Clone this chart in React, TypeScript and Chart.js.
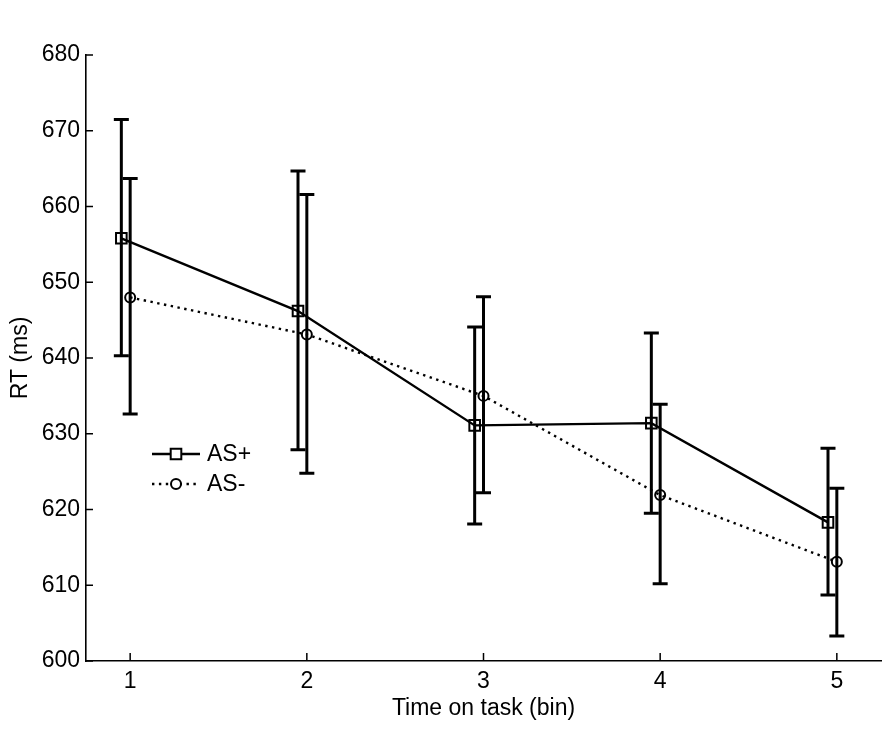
import React, { useEffect, useRef } from "react";
import { Chart, registerables } from "chart.js";

Chart.register(...registerables);

const bins = [1, 2, 3, 4, 5];
const xTicks = [1, 2, 3, 4, 5];
const yTicks = [600, 610, 620, 630, 640, 650, 660, 670, 680];

const asPlusMean = [655.8, 646.2, 631.1, 631.4, 618.3];
const asPlusLow = [640.3, 627.9, 618.1, 619.5, 608.7];
const asPlusHigh = [671.5, 664.7, 644.1, 643.3, 628.1];

const asMinusMean = [648.0, 643.1, 635.0, 621.9, 613.1];
const asMinusLow = [632.6, 624.8, 622.2, 610.2, 603.3];
const asMinusHigh = [663.7, 661.6, 648.1, 633.9, 622.8];

const seriesLabels = ["AS+", "AS-"];
const xTitle = "Time on task (bin)";
const yTitle = "RT (ms)";

const FONT = "Arial, 'Liberation Sans', Helvetica, sans-serif";
const AS_PLUS_SHIFT = -0.05;

export default function App() {
  const ref = useRef<HTMLCanvasElement>(null);

  useEffect(() => {
    if (!ref.current) return;

    const errorBars = {
      id: "errorBars",
      afterDatasetsDraw(chart: any) {
        const { ctx, scales } = chart;
        const x = scales.x;
        const y = scales.y;
        ctx.save();
        ctx.strokeStyle = "#000";
        ctx.lineWidth = 3;
        chart.data.datasets.forEach((ds: any) => {
          ds.data.forEach((p: any) => {
            const px = x.getPixelForValue(p.x);
            const lo = y.getPixelForValue(p.lo);
            const hi = y.getPixelForValue(p.hi);
            ctx.beginPath();
            ctx.moveTo(px, lo);
            ctx.lineTo(px, hi);
            ctx.moveTo(px - 7.5, lo);
            ctx.lineTo(px + 7.5, lo);
            ctx.moveTo(px - 7.5, hi);
            ctx.lineTo(px + 7.5, hi);
            ctx.stroke();
          });
        });
        ctx.restore();
      },
    };

    const inwardTicks = {
      id: "inwardTicks",
      afterDraw(chart: any) {
        const { ctx, scales, chartArea } = chart;
        const x = scales.x;
        const y = scales.y;
        ctx.save();
        ctx.strokeStyle = "#000";
        ctx.lineWidth = 1.5;
        ctx.beginPath();
        x.ticks.forEach((t: any) => {
          const px = x.getPixelForValue(t.value);
          ctx.moveTo(px, chartArea.bottom);
          ctx.lineTo(px, chartArea.bottom - 8);
        });
        y.ticks.forEach((t: any) => {
          const py = y.getPixelForValue(t.value);
          ctx.moveTo(chartArea.left, py);
          ctx.lineTo(chartArea.left + 7, py);
        });
        ctx.stroke();
        ctx.restore();
      },
    };

    const insideLegend = {
      id: "insideLegend",
      afterDraw(chart: any) {
        const { ctx, chartArea } = chart;
        const x0 = chartArea.left + 66;
        const x1 = x0 + 48;
        const rows = [chartArea.top + 399, chartArea.top + 429];
        ctx.save();
        chart.data.datasets.forEach((ds: any, i: number) => {
          const yy = rows[i];
          ctx.strokeStyle = "#000";
          ctx.lineWidth = ds.borderWidth;
          ctx.setLineDash(ds.borderDash || []);
          ctx.beginPath();
          ctx.moveTo(x0, yy);
          ctx.lineTo(x1, yy);
          ctx.stroke();
          ctx.setLineDash([]);
          const cx = (x0 + x1) / 2;
          ctx.lineWidth = 2;
          ctx.fillStyle = "#fff";
          ctx.beginPath();
          if (ds.pointStyle === "rect") {
            const s = ds.pointRadius * Math.SQRT1_2;
            ctx.rect(cx - s, yy - s, 2 * s, 2 * s);
          } else {
            ctx.arc(cx, yy, ds.pointRadius, 0, Math.PI * 2);
          }
          ctx.fill();
          ctx.stroke();
          ctx.fillStyle = "#000";
          ctx.font = `23px ${FONT}`;
          ctx.textBaseline = "middle";
          ctx.textAlign = "left";
          ctx.fillText(ds.label, x1 + 7, yy + 1);
        });
        ctx.restore();
      },
    };

    const chart = new Chart(ref.current, {
      type: "line",
      data: {
        datasets: [
          {
            label: seriesLabels[0],
            data: bins.map((b, i) => ({
              x: b + AS_PLUS_SHIFT,
              y: asPlusMean[i],
              lo: asPlusLow[i],
              hi: asPlusHigh[i],
            })),
            borderColor: "#000",
            borderWidth: 2.4,
            pointStyle: "rect",
            pointRadius: 7.5,
            pointBorderWidth: 2,
            pointBackgroundColor: "rgba(0,0,0,0)",
            pointBorderColor: "#000",
            tension: 0,
          } as any,
          {
            label: seriesLabels[1],
            data: bins.map((b, i) => ({
              x: b,
              y: asMinusMean[i],
              lo: asMinusLow[i],
              hi: asMinusHigh[i],
            })),
            borderColor: "#000",
            borderWidth: 2.4,
            borderDash: [2.4, 4.5],
            pointStyle: "circle",
            pointRadius: 5,
            pointBorderWidth: 2,
            pointBackgroundColor: "rgba(0,0,0,0)",
            pointBorderColor: "#000",
            tension: 0,
          } as any,
        ],
      },
      options: {
        animation: false,
        responsive: false,
        maintainAspectRatio: false,
        devicePixelRatio: 1,
        layout: { padding: { top: 55, right: 11, left: 0, bottom: 0 } },
        plugins: {
          legend: { display: false },
          tooltip: { enabled: false },
        },
        scales: {
          x: {
            type: "linear",
            min: 0.75,
            max: 5.25,
            afterBuildTicks: (s: any) => {
              s.ticks = xTicks.map((v) => ({ value: v }));
            },
            afterFit: (s: any) => {
              s.height = 70;
            },
            grid: { display: false, drawTicks: false },
            border: { display: true, color: "#000", width: 1.6 },
            ticks: {
              color: "#000",
              padding: 7,
              font: { family: FONT, size: 23 },
              callback: (v: any) => String(v),
            },
            title: {
              display: true,
              text: xTitle,
              color: "#000",
              font: { family: FONT, size: 23 },
              padding: { top: 0, bottom: 9 },
            },
          },
          y: {
            type: "linear",
            min: 600,
            max: 680,
            afterBuildTicks: (s: any) => {
              s.ticks = yTicks.map((v) => ({ value: v }));
            },
            afterFit: (s: any) => {
              s.width = 86;
            },
            grid: { display: false, drawTicks: false },
            border: { display: true, color: "#000", width: 1.6 },
            ticks: {
              color: "#000",
              padding: 6,
              font: { family: FONT, size: 23 },
              callback: (v: any) => String(v),
            },
            title: {
              display: true,
              text: yTitle,
              color: "#000",
              font: { family: FONT, size: 23 },
              padding: { top: 7, bottom: 0 },
            },
          },
        },
      },
      plugins: [errorBars, inwardTicks, insideLegend],
    });

    return () => chart.destroy();
  }, []);

  return (
    <div style={{ position: "absolute", left: 0, top: 0, width: 892, height: 731, background: "#fff" }}>
      <canvas ref={ref} width={892} height={731} style={{ display: "block", width: 892, height: 731 }} />
    </div>
  );
}
